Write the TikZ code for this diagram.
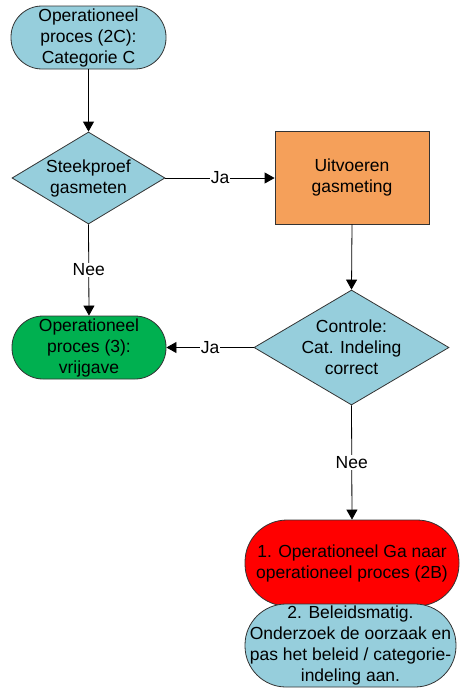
\documentclass[tikz,border=0pt]{standalone}
\usepackage{fontspec}
\setmainfont{Liberation Sans}
\usetikzlibrary{shapes.geometric,arrows.meta}
\definecolor{lblue}{RGB}{150,206,220}
\definecolor{lgreen}{RGB}{0,176,80}
\definecolor{lorange}{RGB}{245,160,90}
\definecolor{lred}{RGB}{255,0,0}
\begin{document}
\begin{tikzpicture}[x=1pt,y=1pt,
  every node/.style={font=\fontsize{17.5}{21}\selectfont, align=center, inner sep=0pt},
  stadium/.style={draw=black!80, line width=0.8pt, minimum width=#1},
  decision/.style={draw=black!80, line width=0.8pt, diamond, fill=lblue},
  procbox/.style={draw=black!80, line width=0.8pt, rectangle, fill=lorange},
  conn/.style={line width=0.8pt, -{Triangle[length=10pt,width=11pt]}},
  plain/.style={line width=0.8pt},
  elabel/.style={fill=white, inner sep=1pt}
]
\useasboundingbox (0,0) rectangle (461,-688);

\node[stadium=155pt, minimum height=63pt, rounded corners=31pt, fill=lblue] (top) at (88.5,-37.5) {Operationeel\\proces (2C):\\Categorie C};
\node[decision, minimum width=153pt, minimum height=92pt, aspect=1.66] (d1) at (88.5,-178) {Steekproef\\gasmeten};
\node[procbox, minimum width=154pt, minimum height=93pt] (meet) at (352,-177.5) {Uitvoeren\\gasmeting};
\node[stadium=154pt, minimum height=63pt, rounded corners=31pt, fill=lgreen] (vrij) at (89,-347.5) {Operationeel\\proces (3):\\vrijgave};
\node[decision, minimum width=195pt, minimum height=115pt, aspect=1.7] (d2) at (351.5,-347.5) {Controle:\\Cat. Indeling\\correct};
\node[stadium=214pt, minimum height=86pt, rounded corners=42pt, fill=lred] (op) at (352,-563) {1. Operationeel Ga naar\\operationeel proces (2B)};
\node[stadium=211pt, minimum height=83pt, rounded corners=41pt, fill=lblue] (bel) at (350.5,-645.5) {2. Beleidsmatig.\\Onderzoek de oorzaak en\\pas het beleid / categorie-\\indeling aan.};

\draw[conn] (top.south) -- (d1.north);
\draw[conn] (d1.east) -- node[elabel, pos=0.5]{Ja} (d1.east -| meet.west);
\draw[conn] (d1.south) -- node[elabel, pos=0.5]{Nee} (vrij.north);
\draw[conn] (meet.south) -- (d2.north);
\draw[conn] (d2.west) -- node[elabel, pos=0.5]{Ja} (vrij.east);
\draw[conn] (d2.south) -- node[elabel, pos=0.5]{Nee} (op.north);
\end{tikzpicture}
\end{document}
